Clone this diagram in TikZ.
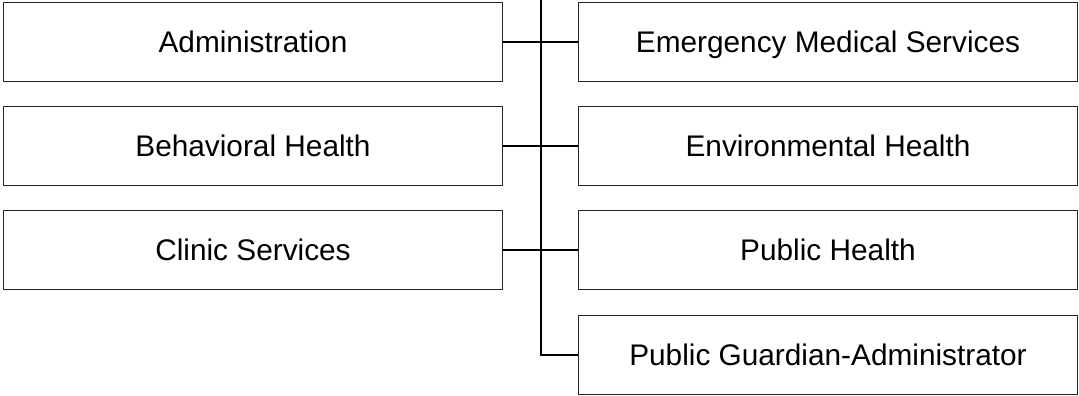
\documentclass[tikz,border=0pt]{standalone}
\usepackage{fontspec}
\setmainfont{Liberation Sans}
\usetikzlibrary{positioning}

\begin{document}
\begin{tikzpicture}[
  x=1pt, y=-1pt,
  font=\fontsize{29.8}{34}\selectfont,
  unit/.style={draw=black!85, line width=1.9pt, minimum width=499pt, minimum height=79pt, inner sep=0pt, text height=21.4pt, text depth=0pt, align=center},
  link/.style={draw=black, line width=1.9pt},
]
  \useasboundingbox (0,0) rectangle (1079,396);

  % Left column
  \node[unit] (admin) at (253,42) {Administration};
  \node[unit] (behav) at (253,146) {Behavioral Health};
  \node[unit] (clinic) at (253,250) {Clinic Services};

  % Right column
  \node[unit] (ems) at (828,42) {Emergency Medical Services};
  \node[unit] (envhealth) at (828,146) {Environmental Health};
  \node[unit] (pubhealth) at (828,250) {Public Health};
  \node[unit] (guardian) at (828,355) {Public Guardian-Administrator};

  % Trunk line
  \coordinate (trunk) at (541,0);
  \draw[link] (trunk) -- (trunk |- guardian.west) -- (guardian.west);

  % Branches
  \draw[link] (admin.east) -- (ems.west);
  \draw[link] (behav.east) -- (envhealth.west);
  \draw[link] (clinic.east) -- (pubhealth.west);
\end{tikzpicture}
\end{document}
